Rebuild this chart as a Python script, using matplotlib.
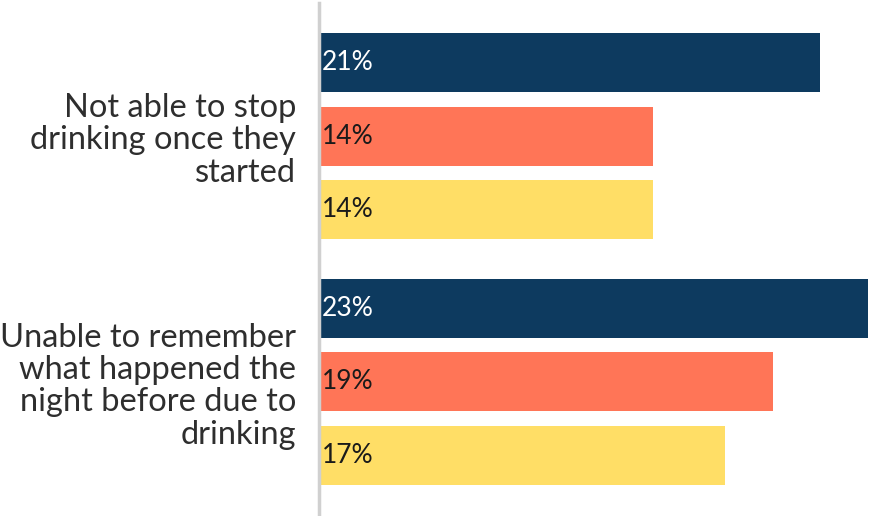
import matplotlib
matplotlib.use("Agg")
import matplotlib.pyplot as plt
import numpy as np

categories = [
    "Not able to stop\ndrinking once they\nstarted",
    "Unable to remember\nwhat happened the\nnight before due to\ndrinking",
]
series_a = [21, 23]
series_b = [14, 19]
series_c = [14, 17]

colors = ["#0d3a5f", "#ff7557", "#ffde66"]
text_colors = ["white", "#1a1a1a", "#1a1a1a"]

plt.rcParams["font.family"] = ["Lato", "DejaVu Sans"]

fig = plt.figure(figsize=(8.88, 5.16), dpi=100)
scale_px = 23.9
xmax = 23.4
ax = fig.add_axes([318.5 / 888, 0, xmax * scale_px / 888, 513 / 516])

offset = 0.2988
height = 0.24
ypos = np.arange(len(categories))
for i, vals in enumerate([series_a, series_b, series_c]):
    y = ypos + (i - 1) * offset
    ax.barh(y, vals, height=height, color=colors[i], linewidth=0)
    for yy, v in zip(y, vals):
        ax.text(0.15, yy, f"{v}%", va="center", ha="left", fontsize=19,
                color=text_colors[i])

ax.set_xlim(0, xmax)
ax.set_ylim(1.545, -0.541)
ax.set_yticks(ypos)
ax.set_yticklabels(categories, fontsize=23.5, color="#2e2e2e", linespacing=1.1)
ax.tick_params(axis="y", length=0, pad=16)
ax.set_xticks([])
for s in ["top", "right", "bottom"]:
    ax.spines[s].set_visible(False)
ax.spines["left"].set_color("#d0d0d0")
ax.spines["left"].set_linewidth(2.5)
for lbl in ax.get_yticklabels():
    lbl.set_horizontalalignment("right")
    lbl.set_multialignment("right")

fig.savefig("out.png", dpi=100)
